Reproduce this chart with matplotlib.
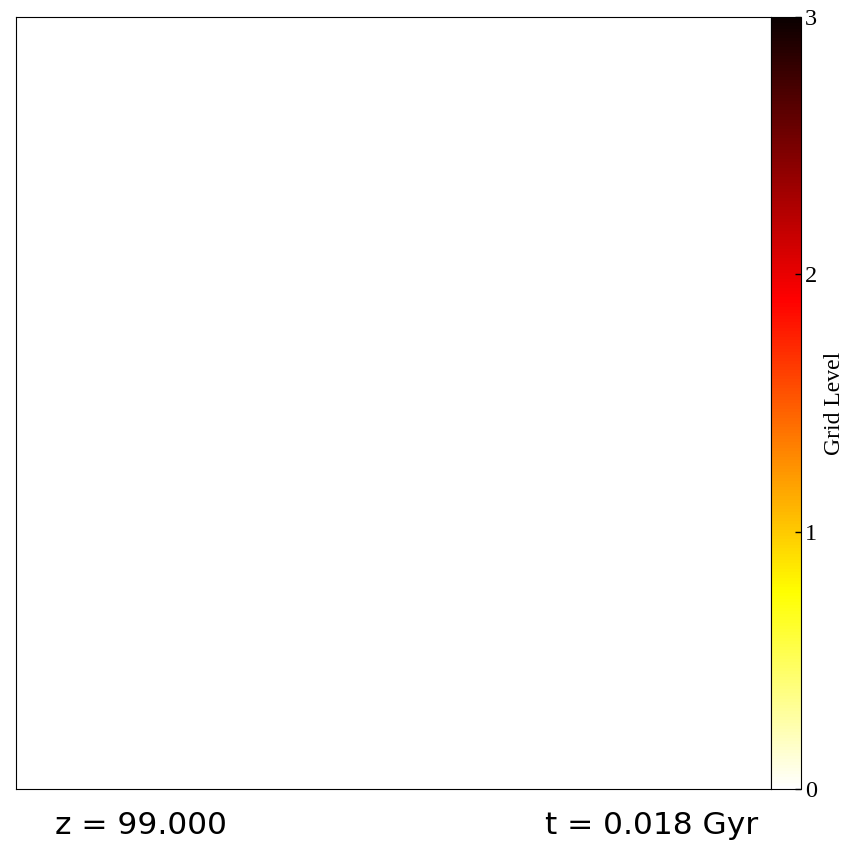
import numpy as np
import matplotlib
matplotlib.use('Agg')
import matplotlib.pyplot as plt

# 初始时刻的网格层级分布（全部为 0 级）
n_cells = 64
grid_level = np.zeros((n_cells, n_cells))
level_ticks = [0, 1, 2, 3]
redshift = 99.000
age_gyr = 0.018

fig = plt.figure(figsize=(8.54, 8.44), dpi=100)

ax = fig.add_axes([16 / 854, 55 / 844, 755 / 854, 772 / 844])
im = ax.imshow(grid_level, cmap='hot_r', vmin=level_ticks[0], vmax=level_ticks[-1],
               origin='lower', aspect='auto', interpolation='nearest')
ax.set_xticks([])
ax.set_yticks([])

cax = fig.add_axes([771 / 854, 55 / 844, 30 / 854, 772 / 844])
cb = fig.colorbar(im, cax=cax, ticks=level_ticks)
cb.ax.tick_params(direction='in', length=4, width=1, pad=3)
for t in cb.ax.get_yticklabels():
    t.set_family('Liberation Serif')
    t.set_fontsize(17.5)
cb.set_label('Grid Level', family='Liberation Serif', fontsize=17, labelpad=5)

fig.text(55 / 854, 10 / 844, 'z = %.3f' % redshift, fontsize=22.5, va='baseline')
fig.text(545 / 854, 10 / 844, 't = %.3f Gyr' % age_gyr, fontsize=22.5, va='baseline')

fig.savefig('out.png', dpi=100)
